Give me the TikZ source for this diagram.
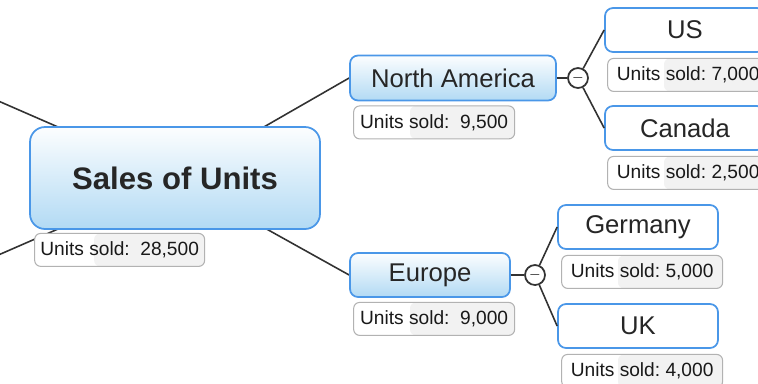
\documentclass[tikz,border=0pt]{standalone}
\usepackage{fontspec}
\setmainfont{Liberation Sans}
\usetikzlibrary{positioning,backgrounds,calc}
\definecolor{topicblue}{RGB}{74,151,232}
\definecolor{topicfill}{RGB}{178,218,244}
\definecolor{linegray}{RGB}{50,50,50}
\tikzset{
  central/.style={draw=topicblue, line width=1pt, rounded corners=0.3cm, top color=white!96!topicfill, bottom color=topicfill, minimum width=5.8cm, minimum height=2.04cm, text=black!85, font=\fontsize{17.7}{20}\selectfont\bfseries},
  region/.style={draw=topicblue, line width=1pt, rounded corners=0.16cm, top color=white!96!topicfill, bottom color=topicfill, minimum height=0.9cm, text=black!85, font=\fontsize{14.6}{17}\selectfont},
  country/.style={draw=topicblue, line width=1pt, rounded corners=0.16cm, fill=white, minimum width=3.2cm, minimum height=0.88cm, text=black!85, font=\fontsize{14.6}{17}\selectfont},
  soldbox/.style={draw=gray!60, line width=0.6pt, rounded corners=0.12cm, fill=white, minimum width=3.22cm, minimum height=0.66cm, inner sep=0pt, text=black!90, font=\fontsize{10.9}{12}\selectfont,
    path picture={\fill[black!5] ($(path picture bounding box.north west)!0.35!(path picture bounding box.north east)$) rectangle (path picture bounding box.south east);}},
  toggle/.style={circle, draw=black!80, line width=1pt, fill=white, minimum size=0.4cm, inner sep=0pt, font=\footnotesize},
  branch/.style={draw=linegray, line width=0.9pt}
}
\begin{document}
\begin{tikzpicture}[x=0.02cm, y=-0.02cm]
  \useasboundingbox (0,0) rectangle (758,383);
  \clip (0,0) rectangle (758,383);

  % Draw the central topic
  \node[central] at (175,178) (sales) {Sales of Units};
  \node[soldbox, minimum width=3.4cm, below right=0.06cm and 0.1cm of sales.south west] (salesnum) {Units sold:\ \ 28,500};

  % Draw the two regions
  \node[region, minimum width=4.12cm] at (453,78) (namerica) {North America};
  \node[soldbox, below right=0.08cm and 0.08cm of namerica.south west] (namericanum) {Units sold:\ \ 9,500};
  \node[region, minimum width=3.2cm, minimum height=0.88cm] at (430,275) (europe) {Europe};
  \node[soldbox, below right=0.08cm and 0.08cm of europe.south west] (europenum) {Units sold:\ \ 9,000};

  % Draw the collapse buttons
  \node[toggle] at (578,78) (natoggle) {$-$};
  \node[toggle] at (535,275) (eutoggle) {$-$};

  % Draw the countries
  \node[country] at (685,30) (us) {US};
  \node[soldbox, below right=0.1cm and 0.06cm of us.south west] (usnum) {Units sold:\ 7,000};
  \node[country] at (685,128) (canada) {Canada};
  \node[soldbox, below right=0.1cm and 0.06cm of canada.south west] (canadanum) {Units sold:\ 2,500};
  \node[country] at (638,227) (germany) {Germany};
  \node[soldbox, below right=0.1cm and 0.08cm of germany.south west] (germanynum) {Units sold:\ 5,000};
  \node[country] at (638,326) (uk) {UK};
  \node[soldbox, below right=0.1cm and 0.08cm of uk.south west] (uknum) {Units sold:\ 4,000};

  % Draw the branches behind the topics
  \coordinate (upleft) at (-20,93);
  \coordinate (lowleft) at (-20,263);
  \begin{scope}[on background layer]
    \draw[branch] (sales.center) -- (upleft);
    \draw[branch] (sales.center) -- (lowleft);
    \draw[branch] (sales.center) -- (namerica.west);
    \draw[branch] (sales.center) -- (europe.west);
  \end{scope}
  \draw[branch] (namerica.east) -- (natoggle);
  \draw[branch] (natoggle) -- (us.west);
  \draw[branch] (natoggle) -- (canada.west);
  \draw[branch] (europe.east) -- (eutoggle);
  \draw[branch] (eutoggle) -- (germany.west);
  \draw[branch] (eutoggle) -- (uk.west);
\end{tikzpicture}
\end{document}
